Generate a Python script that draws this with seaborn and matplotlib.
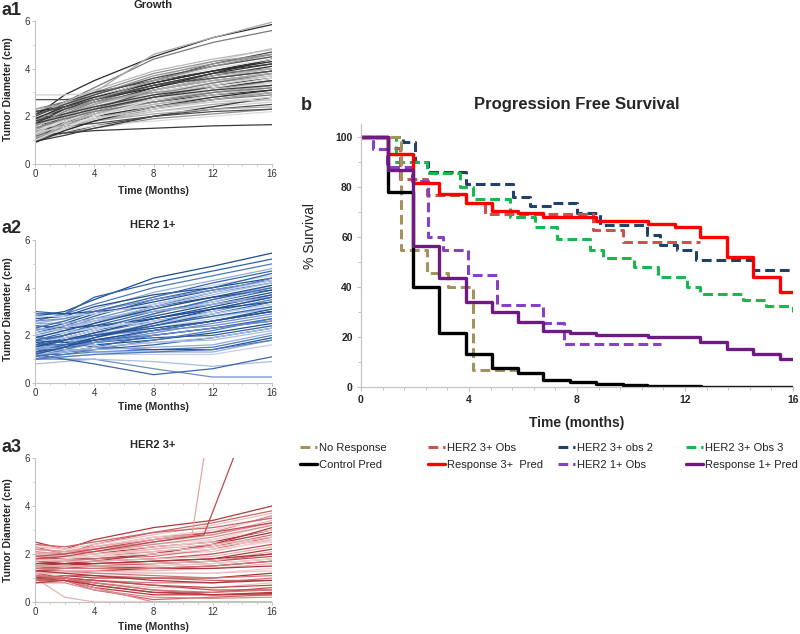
import matplotlib
matplotlib.use("Agg")
import matplotlib.pyplot as plt
from matplotlib.lines import Line2D
from matplotlib.ticker import MultipleLocator
import numpy as np
import pandas as pd
import seaborn as sns

# ---------------- data : panel a (tumour diameter trajectories, cm) ----------------
TIME_A = [0, 2, 4, 8, 12, 16]

GROWTH = [
    [2.0, 2.9, 3.5, 4.5, 5.3, 5.85],
    [2.3, 2.6, 3.2, 4.4, 5.1, 5.6],
    [2.2, 2.5, 3.0, 4.6, 5.3, 5.95],
    [2.9, 2.9, 2.95, 3.6, 4.3, 4.85],
    [2.7, 2.7, 2.8, 3.5, 4.2, 4.7],
    [1.8, 2.5, 3.0, 3.8, 4.3, 4.6],
    [1.6, 2.4, 2.9, 3.6, 4.1, 4.5],
    [2.1, 2.6, 3.0, 3.5, 3.9, 4.2],
    [1.5, 2.2, 2.7, 3.4, 3.9, 4.3],
    [1.3, 2.0, 2.5, 3.2, 3.7, 4.1],
    [1.9, 2.3, 2.6, 3.1, 3.5, 3.8],
    [1.2, 1.9, 2.4, 3.0, 3.4, 3.7],
    [1.7, 2.1, 2.4, 2.9, 3.3, 3.6],
    [1.0, 1.7, 2.2, 2.8, 3.3, 3.6],
    [1.4, 1.9, 2.3, 2.8, 3.2, 3.5],
    [1.1, 1.6, 2.0, 2.6, 3.0, 3.3],
    [1.6, 1.9, 2.2, 2.6, 2.9, 3.1],
    [0.9, 1.5, 1.9, 2.5, 2.9, 3.2],
    [1.3, 1.7, 2.0, 2.4, 2.7, 3.0],
    [1.0, 1.4, 1.8, 2.3, 2.7, 2.9],
    [1.2, 1.5, 1.8, 2.2, 2.5, 2.7],
    [1.5, 1.7, 1.9, 2.2, 2.4, 2.6],
    [1.1, 1.3, 1.6, 2.0, 2.3, 2.5],
    [1.0, 1.3, 1.5, 1.9, 2.1, 2.3],
    [1.2, 1.4, 1.6, 1.8, 2.0, 2.2],
    [1.2, 1.3, 1.4, 1.5, 1.6, 1.65],
    [2.0, 2.6, 3.1, 3.9, 4.4, 4.8],
    [1.8, 2.3, 2.8, 3.4, 3.9, 4.4],
    [1.4, 2.1, 2.6, 3.3, 3.8, 4.0],
    [2.3, 2.5, 2.8, 3.3, 3.7, 4.0],
    [1.6, 2.0, 2.5, 3.0, 3.4, 3.9],
    [1.0, 1.8, 2.3, 3.1, 3.6, 3.9],
    [1.7, 2.2, 2.6, 3.0, 3.2, 3.4],
    [1.3, 1.6, 2.0, 2.7, 3.1, 3.4],
    [0.95, 1.2, 1.5, 2.0, 2.4, 2.8],
    [1.5, 1.8, 2.1, 2.5, 2.8, 3.0],
    [2.2, 2.4, 2.7, 3.2, 3.8, 4.4],
    [1.9, 2.0, 2.3, 2.7, 3.0, 3.3],
    [1.1, 1.5, 1.8, 2.1, 2.3, 2.4],
    [2.0, 2.1, 2.2, 2.4, 2.6, 2.7],
    [1.4, 1.6, 1.7, 2.0, 2.2, 2.3],
    [1.8, 2.4, 2.9, 3.7, 4.2, 4.6],
    [1.5, 2.3, 2.8, 3.5, 4.0, 4.4],
    [1.7, 2.3, 2.7, 3.3, 3.8, 4.2],
    [1.2, 2.0, 2.5, 3.1, 3.6, 4.0],
    [1.9, 2.4, 2.8, 3.4, 3.9, 4.3],
    [1.1, 1.8, 2.3, 2.9, 3.4, 3.8],
    [1.6, 2.1, 2.5, 3.1, 3.5, 3.8],
    [1.3, 1.9, 2.3, 2.9, 3.3, 3.7],
    [2.1, 2.4, 2.7, 3.3, 3.6, 3.9],
    [1.0, 1.6, 2.1, 2.7, 3.1, 3.5],
    [1.4, 1.8, 2.2, 2.7, 3.1, 3.4],
    [1.8, 2.1, 2.4, 2.9, 3.2, 3.5],
    [1.2, 1.7, 2.1, 2.6, 3.0, 3.3],
    [0.9, 1.4, 1.8, 2.4, 2.8, 3.1],
    [1.5, 1.9, 2.2, 2.6, 3.0, 3.2],
    [1.1, 1.5, 1.9, 2.4, 2.7, 3.0],
    [1.3, 1.6, 1.9, 2.3, 2.6, 2.8],
    [2.0, 2.5, 2.9, 3.6, 4.1, 4.5],
    [1.6, 2.2, 2.7, 3.5, 4.1, 4.6],
    [1.0, 1.5, 2.0, 2.7, 3.2, 3.6],
    [1.7, 2.0, 2.3, 2.8, 3.1, 3.3],
]

HER2_1 = [
    [2.8, 3.0, 3.5, 4.4, 4.9, 5.45],
    [3.0, 2.9, 3.6, 4.2, 4.7, 5.2],
    [2.6, 2.9, 3.3, 4.0, 4.5, 5.0],
    [2.5, 2.7, 3.1, 3.8, 4.3, 4.8],
    [2.4, 2.6, 3.0, 3.6, 4.1, 4.5],
    [2.2, 2.5, 2.9, 3.4, 3.9, 4.3],
    [2.0, 2.3, 2.7, 3.3, 3.8, 4.2],
    [1.9, 2.2, 2.6, 3.1, 3.6, 4.0],
    [1.8, 2.1, 2.4, 3.0, 3.4, 3.9],
    [1.6, 2.0, 2.3, 2.8, 3.3, 3.8],
    [1.5, 1.9, 2.2, 2.7, 3.1, 3.6],
    [1.4, 1.8, 2.1, 2.6, 3.0, 3.5],
    [1.3, 1.7, 2.0, 2.5, 2.9, 3.3],
    [1.2, 1.6, 1.9, 2.3, 2.7, 3.2],
    [1.1, 1.5, 1.8, 2.2, 2.6, 3.0],
    [1.0, 1.4, 1.7, 2.1, 2.5, 2.9],
    [2.3, 2.2, 2.3, 2.5, 2.8, 3.1],
    [1.8, 1.7, 1.8, 2.0, 2.3, 2.7],
    [1.5, 1.5, 1.6, 1.8, 2.1, 2.5],
    [1.3, 1.3, 1.4, 1.6, 1.9, 2.3],
    [1.2, 1.2, 1.3, 1.4, 1.5, 2.0],
    [1.6, 1.4, 1.3, 1.3, 1.3, 1.8],
    [1.1, 1.1, 1.2, 1.2, 1.2, 1.6],
    [2.0, 1.7, 1.5, 1.4, 1.4, 1.9],
    [1.0, 1.0, 1.0, 0.6, 0.25, 0.25],
    [0.8, 0.9, 1.0, 0.9, 0.7, 0.9],
    [1.2, 1.0, 0.8, 0.35, 0.6, 1.1],
    [2.7, 2.8, 3.2, 3.7, 4.0, 4.4],
    [2.1, 2.4, 2.8, 3.5, 4.0, 4.6],
    [1.7, 2.0, 2.5, 3.2, 3.8, 4.4],
    [1.4, 1.6, 2.0, 2.9, 3.5, 4.1],
    [1.2, 1.4, 1.6, 2.4, 3.0, 3.7],
    [2.9, 2.9, 3.0, 3.2, 3.6, 3.9],
    [1.9, 1.9, 2.0, 2.2, 2.4, 2.8],
    [1.4, 1.3, 1.5, 1.7, 1.8, 2.2],
    [1.1, 1.3, 1.5, 2.0, 2.3, 2.6],
    [2.4, 2.3, 2.4, 2.7, 3.1, 3.4],
    [1.6, 1.6, 1.7, 1.9, 2.0, 2.4],
    [1.0, 1.2, 1.4, 1.8, 2.2, 2.7],
    [2.2, 2.4, 2.6, 3.0, 3.3, 3.7],
    [1.7, 1.9, 2.2, 2.9, 3.4, 4.0],
    [1.3, 1.5, 1.8, 2.2, 2.6, 3.1],
    [2.6, 2.7, 3.0, 3.5, 3.9, 4.3],
    [2.1, 2.3, 2.6, 3.2, 3.7, 4.2],
    [1.8, 2.0, 2.3, 2.9, 3.5, 4.0],
    [1.5, 1.8, 2.1, 2.7, 3.2, 3.7],
    [1.3, 1.6, 1.9, 2.4, 2.9, 3.4],
    [1.1, 1.4, 1.7, 2.2, 2.6, 3.0],
    [2.5, 2.5, 2.7, 3.0, 3.3, 3.6],
    [2.0, 2.1, 2.3, 2.6, 2.9, 3.3],
    [1.7, 1.8, 2.0, 2.3, 2.6, 3.0],
    [1.4, 1.5, 1.7, 2.0, 2.3, 2.6],
    [1.2, 1.3, 1.5, 1.7, 1.9, 2.3],
    [2.3, 2.6, 3.0, 3.6, 4.2, 4.7],
    [1.9, 2.2, 2.5, 3.1, 3.6, 4.1],
    [1.6, 1.8, 2.0, 2.4, 2.8, 3.2],
    [1.0, 1.1, 1.2, 1.3, 1.4, 1.8],
    [1.5, 1.4, 1.4, 1.5, 1.6, 2.1],
    [2.8, 2.8, 2.9, 3.3, 3.8, 4.3],
    [1.2, 1.5, 1.9, 2.5, 3.1, 3.6],
]

HER2_3 = [
    [2.5, 2.2, 2.6, 3.1, 3.4, 4.0],
    [2.3, 2.0, 2.4, 2.9, 3.3, 3.8],
    [2.2, 2.1, 2.3, 2.7, 2.9, 3.6],
    [2.0, 2.0, 2.2, 2.6, 2.8, 3.4],
    [2.4, 2.2, 2.2, 2.4, 2.6, 3.2],
    [1.9, 1.9, 2.0, 2.3, 2.5, 3.0],
    [1.8, 1.8, 1.9, 2.1, 2.3, 2.8],
    [1.7, 1.7, 1.8, 2.0, 2.1, 2.6],
    [1.6, 1.6, 1.7, 1.8, 2.0, 2.4],
    [1.5, 1.5, 1.6, 1.7, 1.8, 2.2],
    [1.4, 1.5, 1.5, 1.6, 1.7, 2.0],
    [1.3, 1.4, 1.4, 1.5, 1.6, 1.8],
    [1.2, 1.2, 1.3, 1.3, 1.4, 1.6],
    [1.1, 1.2, 1.2, 1.2, 1.2, 1.4],
    [1.0, 1.1, 1.0, 1.0, 1.0, 1.2],
    [0.9, 1.0, 0.9, 0.8, 0.8, 1.0],
    [0.8, 1.0, 0.8, 0.6, 0.6, 0.8],
    [1.2, 1.0, 0.7, 0.4, 0.4, 0.6],
    [1.0, 0.9, 0.6, 0.3, 0.3, 0.4],
    [1.1, 0.9, 0.5, 0.1, 0.2, 0.3],
    [1.2, 0.9, 0.6, 0.0, 0.0, 0.0],
    [1.0, 0.2, 0.0, 0.0, 0.0, 0.0],
    [2.1, 1.9, 1.9, 2.2, 2.6, 3.0],
    [1.9, 1.8, 1.8, 2.0, 2.4, 2.9],
    [1.6, 1.7, 1.8, 1.9, 2.2, 2.7],
    [2.2, 2.1, 2.1, 2.3, 2.5, 2.5],
    [1.5, 1.4, 1.5, 1.6, 1.7, 1.9],
    [1.3, 1.3, 1.3, 1.4, 1.5, 1.7],
    [0.9, 0.9, 0.8, 0.5, 0.3, 0.3],
    [0.8, 0.8, 0.5, 0.2, 0.15, 0.2],
    [1.8, 1.7, 1.6, 1.6, 1.7, 2.1],
    [2.0, 2.0, 2.3, 2.7, 3.0, 3.5],
    [1.7, 1.6, 1.5, 1.4, 1.4, 1.5],
    [1.4, 1.3, 1.2, 1.1, 1.0, 1.1],
    [2.3, 2.2, 2.4, 2.8, 3.2, 3.7],
    [1.1, 1.0, 0.9, 0.7, 0.5, 0.5],
    [1.5, 1.6, 1.7, 2.0, 2.4, 3.1],
    [0.9, 1.1, 1.1, 1.0, 0.9, 0.9],
    [2.1, 2.0, 2.1, 2.4, 2.7, 3.2],
    [1.9, 1.9, 2.0, 2.2, 2.4, 2.7],
    [1.7, 1.8, 1.9, 2.0, 2.2, 2.5],
    [1.6, 1.6, 1.6, 1.7, 1.8, 2.0],
    [1.4, 1.4, 1.4, 1.4, 1.5, 1.7],
    [1.2, 1.3, 1.3, 1.2, 1.2, 1.3],
    [1.0, 1.0, 0.9, 0.7, 0.6, 0.7],
    [0.8, 0.9, 0.7, 0.4, 0.3, 0.35],
    [2.4, 2.3, 2.5, 2.9, 3.1, 3.5],
    [2.2, 2.1, 2.2, 2.5, 2.8, 3.3],
    [1.8, 1.7, 1.7, 1.8, 1.9, 2.3],
    [1.5, 1.5, 1.5, 1.5, 1.6, 1.8],
    [1.3, 1.2, 1.1, 0.9, 0.8, 0.9],
    [1.1, 1.0, 0.8, 0.5, 0.4, 0.5],
    [2.0, 1.9, 2.0, 2.1, 2.3, 2.6],
    [1.9, 2.0, 2.2, 2.6, 2.9, 3.3],
]
SPIKE_T = [[0, 2, 4, 8, 10.6, 11.4], [0, 2, 4, 8, 11.4, 13.4]]
SPIKE_D = [[2.0, 2.1, 2.3, 2.6, 2.8, 6.0], [1.8, 1.9, 2.1, 2.5, 2.8, 6.0]]

# ---------------- data : panel b (Kaplan-Meier, % survival) ----------------
NR_T = [0, 1.48, 2.43, 3.23, 4.16, 5.8]
NR_S = [100, 54.8, 45.5, 40, 6.8, 6.8]
H3_T = [0, 1.0, 1.44, 2.43, 3.9, 4.6, 8.6, 9.7, 12.56]
H3_S = [100, 95.5, 83, 76.8, 73.5, 69, 62.8, 57.9, 57.9]
H3B_T = [0, 1.56, 2.0, 2.48, 3.9, 5.64, 6.26, 7.1, 8.0, 8.85, 10.6, 11.07, 11.7, 12.4, 14.5, 16]
H3B_S = [100, 98, 90, 86, 81, 76, 72.4, 73.7, 69.5, 64.8, 60.8, 56.8, 54.8, 50.8, 46.8, 46.8]
H3C_T = [0, 1.3, 2.43, 3.67, 4.16, 5.52, 6.44, 7.25, 8.48, 8.98, 10.1, 11.0, 12.06, 12.56, 14.16, 15.0, 16]
H3C_S = [100, 90, 85.5, 80, 75, 68, 64, 59, 54.8, 51.5, 47.9, 43.9, 39.9, 37.1, 34.8, 32.4, 30]
CTRL_T = [0, 1.0, 1.94, 2.9, 3.88, 4.84, 5.83, 6.75, 7.74, 8.7, 9.7, 10.6, 11.6, 12.6, 16]
CTRL_S = [100, 78, 40, 21.6, 13.3, 7.7, 5.5, 2.8, 2.0, 1.2, 0.8, 0.5, 0.3, 0.1, 0.1]
R3_T = [0, 1.0, 1.94, 2.9, 3.88, 4.84, 5.83, 6.75, 8.7, 10.64, 11.63, 12.56, 13.54, 14.53, 15.52, 16]
R3_S = [100, 93.2, 81.7, 77, 73.5, 70.4, 69.7, 68.1, 66.5, 65, 64, 60, 52, 44, 38, 38]
H1_T = [0, 0.45, 0.95, 1.9, 2.49, 3.05, 3.98, 5.02, 6.75, 7.5, 11.1]
H1_S = [100, 95, 88, 82.5, 60, 54.8, 44.8, 32.8, 25.7, 17.2, 17.2]
R1_T = [0, 1.0, 1.94, 2.9, 3.88, 4.84, 5.83, 6.75, 7.74, 8.7, 10.64, 12.56, 13.54, 14.53, 15.52, 16]
R1_S = [100, 86.8, 56.4, 43.5, 33.9, 29.9, 26.2, 22.4, 21.7, 20.8, 19.9, 17.9, 15.1, 13.1, 11.1, 11.1]

LABELS = ["No Response", "HER2 3+ Obs", "HER2 3+ obs 2", "HER2 3+ Obs 3",
          "Control Pred", "Response 3+  Pred", "HER2 1+ Obs", "Response 1+ Pred"]

# ---------------- style ----------------
sns.set_theme(style="white")
plt.rcParams["font.family"] = ["Liberation Sans", "DejaVu Sans"]

W, H = 800, 634
fig = plt.figure(figsize=(8, 6.34), dpi=100)


def fx(px):
    return px / W


def fy(py):
    return 1 - py / H


def rect(l, t, r, b):
    return [fx(l), fy(b), fx(r) - fx(l), fy(t) - fy(b)]


SPINE = "#c4c4c4"

GRAYS = ["#2b2b2b", "#7a7a7a", "#a9a9a9", "#cfcfcf", "#4d4d4d", "#919191", "#dcdcdc", "#3a3a3a", "#b8b8b8"]
BLUES = ["#1f4e8c", "#2f62a8", "#4d7abd", "#93acd8", "#c3d1eb", "#234f95", "#6e8dc8", "#aabde3", "#3a67ad"]
REDS = ["#b3393d", "#c96466", "#d98c8e", "#e8b2b3", "#f1cfd0", "#a8353a", "#d27577", "#ecc0c1", "#c04c50"]


def long_df(times, curves):
    rows = []
    for i, c in enumerate(curves):
        for t, v in zip(times, c):
            rows.append(("c%02d" % i, t, v))
    return pd.DataFrame(rows, columns=["curve", "t", "d"])


def panel_a(ax_rect, times, curves, palette, tag, title, tag_base, title_base, xl_base, yl_mid):
    ax = fig.add_axes(ax_rect)
    df = long_df(times, curves)
    names = sorted(df["curve"].unique())
    pal = {n: palette[i % len(palette)] for i, n in enumerate(names)}
    sns.lineplot(data=df, x="t", y="d", hue="curve", units="curve", estimator=None,
                 palette=pal, legend=False, lw=0.9, ax=ax)
    ax.set_xlim(0, 16)
    ax.set_ylim(0, 6)
    ax.set_xticks([0, 4, 8, 12, 16])
    ax.set_yticks([0, 2, 4, 6])
    ax.xaxis.set_minor_locator(MultipleLocator(1))
    ax.yaxis.set_minor_locator(MultipleLocator(1))
    ax.set_xlabel("")
    ax.set_ylabel("")
    for s in ["top", "right"]:
        ax.spines[s].set_visible(False)
    for s in ["left", "bottom"]:
        ax.spines[s].set_color(SPINE)
        ax.spines[s].set_linewidth(0.8)
    ax.tick_params(which="both", bottom=True, left=True, direction="out", color=SPINE)
    ax.tick_params(which="major", length=2, width=0.7, labelsize=7, labelcolor="#333333", pad=1.5)
    ax.tick_params(which="minor", length=1.5, width=0.6)
    fig.text(fx(1), fy(tag_base), tag, fontsize=13, fontweight="bold", va="baseline", ha="left")
    fig.text(fx(153), fy(title_base), title, fontsize=8, fontweight="bold", va="baseline", ha="center")
    fig.text(fx(153), fy(xl_base), "Time (Months)", fontsize=7.5, fontweight="bold", va="baseline", ha="center")
    fig.text(fx(8), fy(yl_mid), "Tumor Diameter (cm)", fontsize=7.5, fontweight="bold",
             rotation=90, va="center", ha="center")
    return ax


panel_a(rect(35, 21, 272, 164), TIME_A, GROWTH, GRAYS, "a1", "Growth", 15, 8, 194, 89)
panel_a(rect(35, 240, 272, 383), TIME_A, HER2_1, BLUES, "a2", "HER2 1+", 233, 228, 410, 309)
ax3 = panel_a(rect(35, 458, 272, 602), TIME_A, HER2_3, REDS, "a3", "HER2 3+", 452, 448, 630, 530)
for tt, dd, col in zip(SPIKE_T, SPIKE_D, ["#e6a6a8", "#c0484c"]):
    sns.lineplot(x=tt, y=dd, color=col, lw=0.9, estimator=None, ax=ax3)
ax3.set_ylim(0, 6)

# ---------------- panel b ----------------
axb = fig.add_axes(rect(361, 124.5, 793, 387))

OLIVE = "#a4935d"
INDRED = "#c8544f"
NAVY = "#23406a"
GREEN = "#19b84e"
BLACK = "#000000"
RED = "#ff0000"
LPURP = "#8540c4"
DPURP = "#6e1a80"

DASH = (0, (3.2, 1.6))
series = [
    (H3B_T, H3B_S, NAVY, DASH, 2.2),
    (H3C_T, H3C_S, GREEN, DASH, 2.2),
    (H3_T, H3_S, INDRED, DASH, 2.2),
    (NR_T, NR_S, OLIVE, DASH, 2.2),
    (H1_T, H1_S, LPURP, DASH, 2.2),
    (CTRL_T, CTRL_S, BLACK, "-", 2.4),
    (R3_T, R3_S, RED, "-", 2.4),
    (R1_T, R1_S, DPURP, "-", 2.4),
]
for t, s, col, ls, lw in series:
    sns.lineplot(x=t, y=s, color=col, linestyle=ls, lw=lw, drawstyle="steps-post",
                 estimator=None, sort=False, ax=axb)

axb.set_xlim(0, 16)
axb.set_ylim(0, 105)
axb.set_xticks([0, 4, 8, 12, 16])
axb.set_yticks([0, 20, 40, 60, 80, 100])
axb.xaxis.set_minor_locator(MultipleLocator(0.8))
axb.yaxis.set_minor_locator(MultipleLocator(10))
for s in ["top", "right"]:
    axb.spines[s].set_visible(False)
for s in ["left", "bottom"]:
    axb.spines[s].set_color(SPINE)
    axb.spines[s].set_linewidth(0.9)
axb.tick_params(which="both", bottom=True, left=True, direction="out", color=SPINE)
axb.tick_params(which="major", length=3, width=0.8, labelsize=7.5, pad=3)
axb.tick_params(which="minor", length=2, width=0.7)
for lab in axb.get_xticklabels() + axb.get_yticklabels():
    lab.set_fontweight("bold")
axb.set_xlabel("")
axb.set_ylabel("")

fig.text(fx(301), fy(110), "b", fontsize=13, fontweight="bold", va="baseline", ha="left")
fig.text(fx(577), fy(109), "Progression Free Survival", fontsize=12, fontweight="bold",
         va="baseline", ha="center")
fig.text(fx(310), fy(236), "% Survival", fontsize=10, rotation=90, va="center", ha="center", color="#222222")
fig.text(fx(577), fy(427), "Time (months)", fontsize=10, fontweight="bold", va="baseline", ha="center")

# legend: four columns, two rows
styles = {
    "No Response": (OLIVE, DASH, 2.2), "HER2 3+ Obs": (INDRED, DASH, 2.2),
    "HER2 3+ obs 2": (NAVY, DASH, 2.2), "HER2 3+ Obs 3": (GREEN, DASH, 2.2),
    "Control Pred": (BLACK, "-", 2.4), "Response 3+  Pred": (RED, "-", 2.4),
    "HER2 1+ Obs": (LPURP, DASH, 2.2), "Response 1+ Pred": (DPURP, "-", 2.4),
}
col_x = [300, 428, 558, 686]
for j in range(4):
    labs = [LABELS[j], LABELS[j + 4]]
    hs = [Line2D([], [], color=styles[l][0], linestyle=styles[l][1], lw=styles[l][2]) for l in labs]
    leg = fig.legend(hs, labs, loc="upper left", bbox_to_anchor=(fx(col_x[j]), fy(443)),
                     frameon=False, fontsize=8, handlelength=1.5, handletextpad=0.2,
                     labelspacing=0.62, borderpad=0, borderaxespad=0)
    for tx in leg.get_texts():
        tx.set_color("#222222")

fig.savefig("out.png", dpi=100)
